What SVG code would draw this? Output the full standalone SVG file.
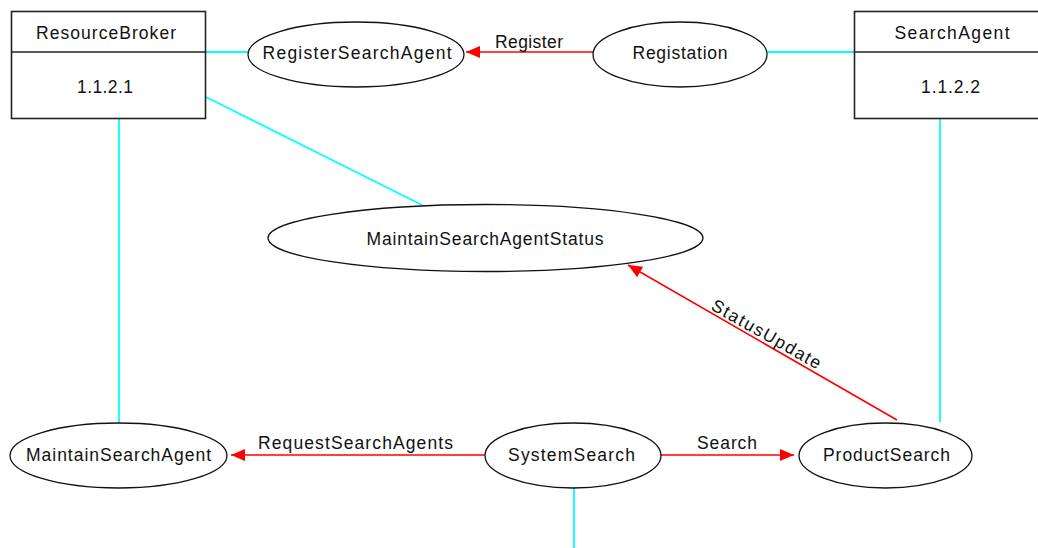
<svg xmlns="http://www.w3.org/2000/svg" width="1038" height="548" viewBox="0 0 1038 548">
  <style>
    text { font-family: "Liberation Sans", Arial, sans-serif; font-size: 17.5px; fill: #111; text-anchor: middle; }
    .box { fill: #fff; stroke: #222; stroke-width: 1.6; }
    .uc { fill: #fff; stroke: #111; stroke-width: 1.3; }
    .assoc { stroke: #00ffff; stroke-width: 1.8; fill: none; }
    .flow { stroke: #ff0000; stroke-width: 1.6; fill: none; }
  </style>
  <defs>
    <marker id="arrow" viewBox="0 0 14 12" refX="14" refY="6" markerWidth="14" markerHeight="12" markerUnits="userSpaceOnUse" orient="auto">
      <path d="M0,0 L14,6 L0,12 Z" fill="#ff0000"/>
    </marker>
  </defs>

  <!-- associations and message flows -->
  <g id="connectors">
    <line class="assoc" x1="205" y1="52" x2="248" y2="52"/>
    <line class="assoc" x1="767" y1="52" x2="855" y2="52"/>
    <line class="assoc" x1="206" y1="97" x2="422" y2="205"/>
    <line class="assoc" x1="119" y1="118" x2="119" y2="423"/>
    <line class="assoc" x1="940" y1="118" x2="940" y2="422"/>
    <line class="assoc" x1="574" y1="488" x2="574" y2="548"/>

    <line class="flow" x1="593" y1="52" x2="466" y2="52" marker-end="url(#arrow)"/>
    <line class="flow" x1="485" y1="455" x2="231" y2="455" marker-end="url(#arrow)"/>
    <line class="flow" x1="661" y1="455" x2="794" y2="455" marker-end="url(#arrow)"/>
    <line class="flow" x1="897" y1="420" x2="628" y2="265" stroke-width="1.2" marker-end="url(#arrow)"/>

    <text x="529" y="48" textLength="68" lengthAdjust="spacing">Register</text>
    <text x="355.5" y="449" textLength="195" lengthAdjust="spacing">RequestSearchAgents</text>
    <text x="727" y="449" textLength="60" lengthAdjust="spacing">Search</text>
    <text transform="translate(766,335) rotate(29.5)" x="0" y="5" textLength="123" lengthAdjust="spacing">StatusUpdate</text>
  </g>

  <!-- agents -->
  <g id="ResourceBroker">
    <rect class="box" x="11.5" y="11.5" width="194" height="107"/>
    <line class="box" x1="11.5" y1="52" x2="205.5" y2="52"/>
    <text x="106" y="39" textLength="140" lengthAdjust="spacing">ResourceBroker</text>
    <text x="105" y="93" textLength="56" lengthAdjust="spacing">1.1.2.1</text>
  </g>
  <g id="SearchAgent">
    <rect class="box" x="854.5" y="11.5" width="194" height="107"/>
    <line class="box" x1="854.5" y1="52" x2="1048.5" y2="52"/>
    <text x="952" y="39" textLength="115" lengthAdjust="spacing">SearchAgent</text>
    <text x="950.5" y="93" textLength="59" lengthAdjust="spacing">1.1.2.2</text>
  </g>

  <!-- use cases -->
  <g id="RegisterSearchAgent">
    <ellipse class="uc" cx="356" cy="54.5" rx="108" ry="32.5"/>
    <text x="357" y="59" textLength="189" lengthAdjust="spacing">RegisterSearchAgent</text>
  </g>
  <g id="Registation">
    <ellipse class="uc" cx="680" cy="54.5" rx="87" ry="32.5"/>
    <text x="680" y="59" textLength="95" lengthAdjust="spacing">Registation</text>
  </g>
  <g id="MaintainSearchAgentStatus">
    <ellipse class="uc" cx="485.5" cy="238" rx="217.5" ry="33.5"/>
    <text x="485" y="245" textLength="237" lengthAdjust="spacing">MaintainSearchAgentStatus</text>
  </g>
  <g id="MaintainSearchAgent">
    <ellipse class="uc" cx="118.5" cy="455.5" rx="108.5" ry="32.5"/>
    <text x="118.5" y="461" textLength="185" lengthAdjust="spacing">MaintainSearchAgent</text>
  </g>
  <g id="SystemSearch">
    <ellipse class="uc" cx="573" cy="455.5" rx="88" ry="32.5"/>
    <text x="571.5" y="461" textLength="127" lengthAdjust="spacing">SystemSearch</text>
  </g>
  <g id="ProductSearch">
    <ellipse class="uc" cx="885.5" cy="455.5" rx="86.5" ry="32.5"/>
    <text x="886.5" y="461" textLength="127" lengthAdjust="spacing">ProductSearch</text>
  </g>
</svg>
